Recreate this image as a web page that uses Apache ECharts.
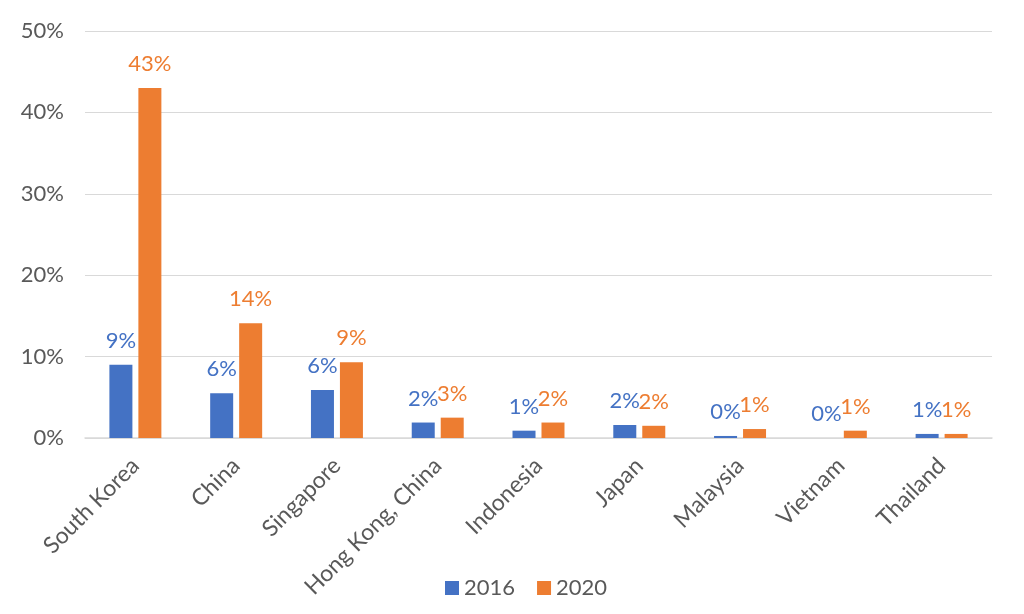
<!DOCTYPE html>
<html>
<head>
<meta charset="utf-8">
<script src="https://cdn.jsdelivr.net/npm/echarts@6/dist/echarts.min.js"></script>
<style>html,body{margin:0;padding:0;background:#fff}#c{width:1024px;height:614px}</style>
</head>
<body>
<div id="c"></div>
<script>
const categories = ["South Korea", "China", "Singapore", "Hong Kong, China", "Indonesia", "Japan", "Malaysia", "Vietnam", "Thailand"];
const values2016 = [9.0, 5.5, 5.9, 1.9, 0.9, 1.6, 0.25, 0, 0.5];
const values2020 = [43.0, 14.1, 9.3, 2.5, 1.9, 1.5, 1.1, 0.9, 0.5];
const yTicks = [0, 10, 20, 30, 40, 50];

const FONT = "Lato, 'Open Sans', sans-serif";
const chart = echarts.init(document.getElementById('c'));
const lbl = (color) => ({
  show: true, position: 'top', distance: 13, color: color,
  fontSize: 22, fontFamily: FONT,
  formatter: p => Math.round(p.value) + '%'
});
chart.setOption({
  animation: false,
  textStyle: { fontFamily: FONT },
  grid: { left: 85, right: 32, top: 31, bottom: 176 },
  legend: {
    bottom: 10, left: 440, itemWidth: 14, itemHeight: 14, itemGap: 22,
    icon: 'rect',
    textStyle: { fontSize: 22, color: '#595959', fontFamily: FONT },
    data: ['2016', '2020']
  },
  xAxis: {
    type: 'category', data: categories,
    axisLine: { lineStyle: { color: '#d9d9d9', width: 1.5 } },
    axisTick: { show: false },
    axisLabel: { rotate: 45, fontSize: 23, color: '#595959', margin: 24, fontFamily: FONT, interval: 0 }
  },
  yAxis: {
    type: 'value', min: yTicks[0], max: yTicks[yTicks.length - 1], interval: 10,
    axisLine: { show: false }, axisTick: { show: false },
    splitLine: { lineStyle: { color: '#d9d9d9', width: 1.2 } },
    axisLabel: { formatter: '{value}%', fontSize: 22, color: '#595959', margin: 21, fontFamily: FONT }
  },
  series: [
    { name: '2016', type: 'bar', data: values2016, barWidth: 23, barGap: '26%',
      itemStyle: { color: '#4472C4' }, label: lbl('#4472C4') },
    { name: '2020', type: 'bar', data: values2020, barWidth: 23,
      itemStyle: { color: '#ED7D31' }, label: lbl('#ED7D31') }
  ]
});
</script>
</body>
</html>
